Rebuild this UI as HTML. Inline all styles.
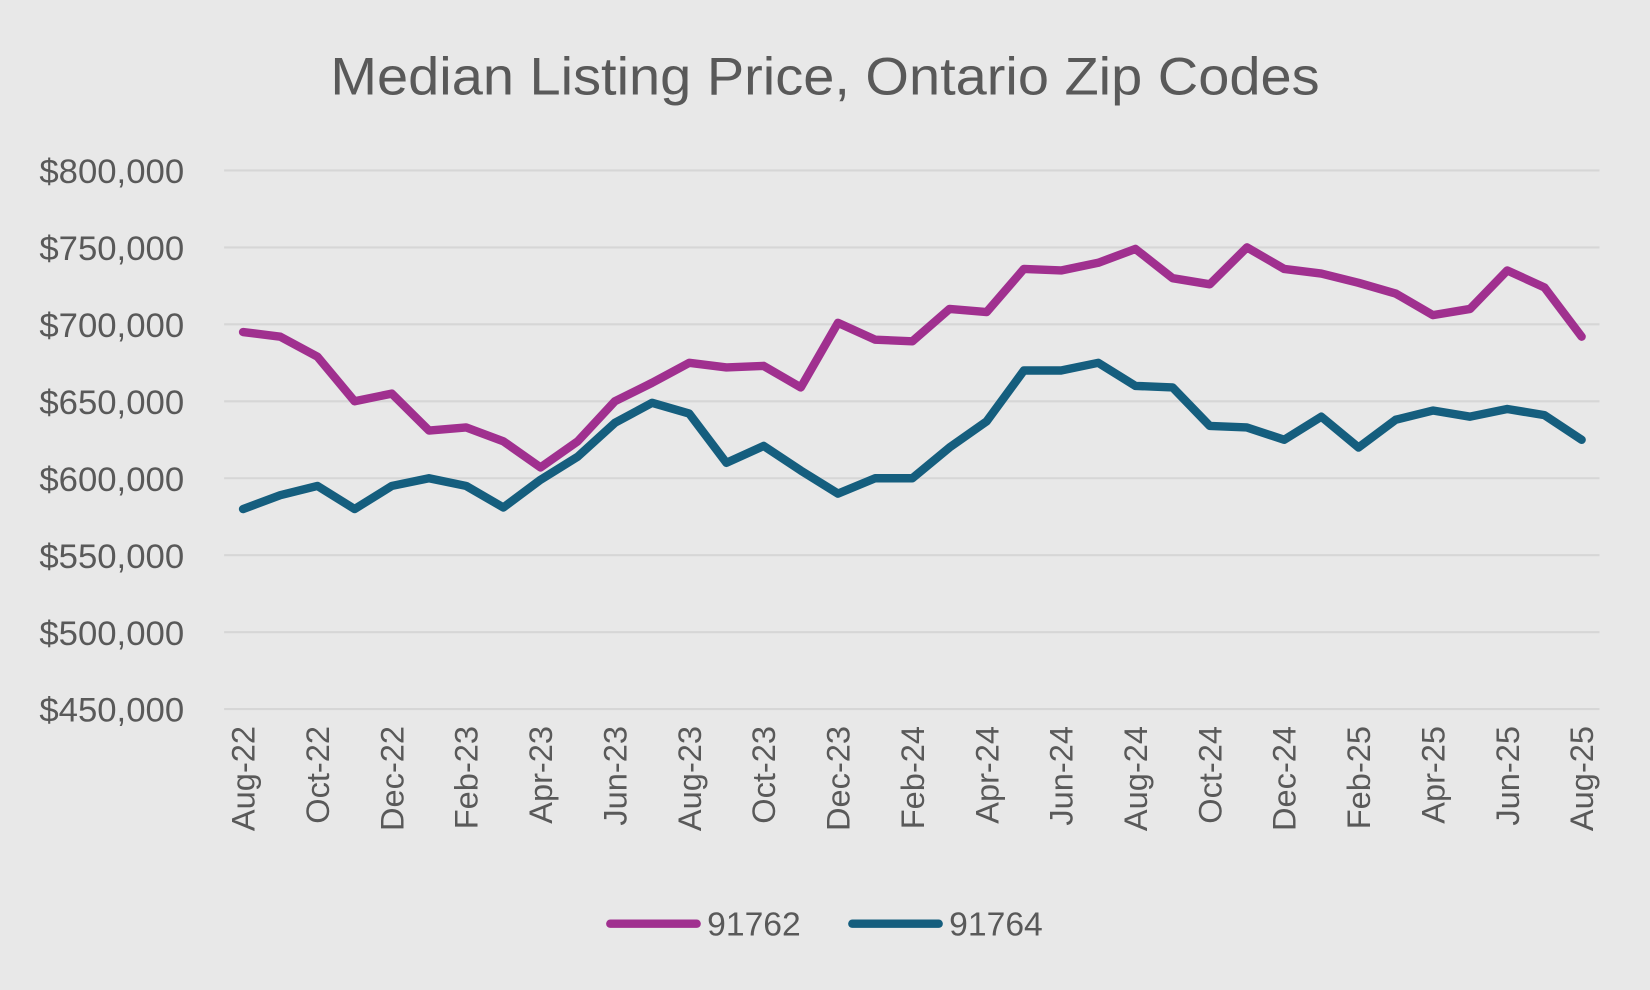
<!DOCTYPE html>
<html><head><meta charset="utf-8"><style>
html,body{margin:0;padding:0;background:#e8e8e8;}
svg{display:block;font-family:"Liberation Sans",sans-serif;}
</style></head><body>
<svg id="chart" width="1650" height="990" viewBox="0 0 1568 941" preserveAspectRatio="none">
<rect width="1568" height="941" fill="#e8e8e8"/>
<text x="784" y="90" text-anchor="middle" font-size="50" textLength="940" lengthAdjust="spacingAndGlyphs" fill="#595959">Median Listing Price, Ontario Zip Codes</text>
<g id="grid"></g><g id="yt"></g><g id="xt"></g><g id="lines"></g>
<g>
<line x1="580" y1="878" x2="662" y2="878" stroke="#a0308f" stroke-width="8" stroke-linecap="round"/>
<text x="672" y="889" font-size="32" fill="#595959">91762</text>
<line x1="810" y1="878" x2="892" y2="878" stroke="#155e7e" stroke-width="8" stroke-linecap="round"/>
<text x="902" y="889" font-size="32" fill="#595959">91764</text>
</g>
</svg>
<script>
const months=["Aug-22","Sep-22","Oct-22","Nov-22","Dec-22","Jan-23","Feb-23","Mar-23","Apr-23","May-23","Jun-23","Jul-23","Aug-23","Sep-23","Oct-23","Nov-23","Dec-23","Jan-24","Feb-24","Mar-24","Apr-24","May-24","Jun-24","Jul-24","Aug-24","Sep-24","Oct-24","Nov-24","Dec-24","Jan-25","Feb-25","Mar-25","Apr-25","May-25","Jun-25","Jul-25","Aug-25"];
const s91762=[695,692,679,650,655,631,633,624,607,624,650,662,675,672,673,659,701,690,689,710,708,736,735,740,749,730,726,750,736,733,727,720,706,710,735,724,692];
const s91764=[580,589,595,580,595,600,595,581,599,614,636,649,642,610,621,605,590,600,600,620,637,670,670,675,660,659,634,633,625,640,620,638,644,640,645,641,625];
const yTicks=[450,500,550,600,650,700,750,800];
const NS="http://www.w3.org/2000/svg";
const x0=231,x1=1503,yTop=162,yBot=674;
const xs=i=>x0+(x1-x0)*i/(months.length-1);
const ys=v=>yBot-(v-450)/(800-450)*(yBot-yTop);
function mk(t,a,p){const e=document.createElementNS(NS,t);for(const k in a)e.setAttribute(k,a[k]);p.appendChild(e);return e;}
const grid=document.getElementById('grid'),yt=document.getElementById('yt'),xt=document.getElementById('xt'),lines=document.getElementById('lines');
yTicks.forEach(v=>{
 const l=mk('line',{x1:213,x2:1520,y1:ys(v),y2:ys(v),stroke:'#d6d6d6','stroke-width':2},grid);
 
 
 const t=mk('text',{x:175,y:ys(v)+12,'text-anchor':'end','font-size':33,fill:'#595959'},yt);
 t.textContent='$'+v+',000';
 
 
});
months.forEach((m,i)=>{
 if(i%2)return;
 const t=mk('text',{transform:`translate(${xs(i)+11},690) rotate(-90)`,'text-anchor':'end','font-size':31,fill:'#595959'},xt);
 t.textContent=m;
 
 
});
[[s91762,'#a0308f','line-91762'],[s91764,'#155e7e','line-91764']].forEach(([d,c,n])=>{
 const p=mk('polyline',{points:d.map((v,i)=>xs(i)+','+ys(v)).join(' '),fill:'none',stroke:c,'stroke-width':8,'stroke-linejoin':'round','stroke-linecap':'round'},lines);
 
 
});
</script>
</body></html>
